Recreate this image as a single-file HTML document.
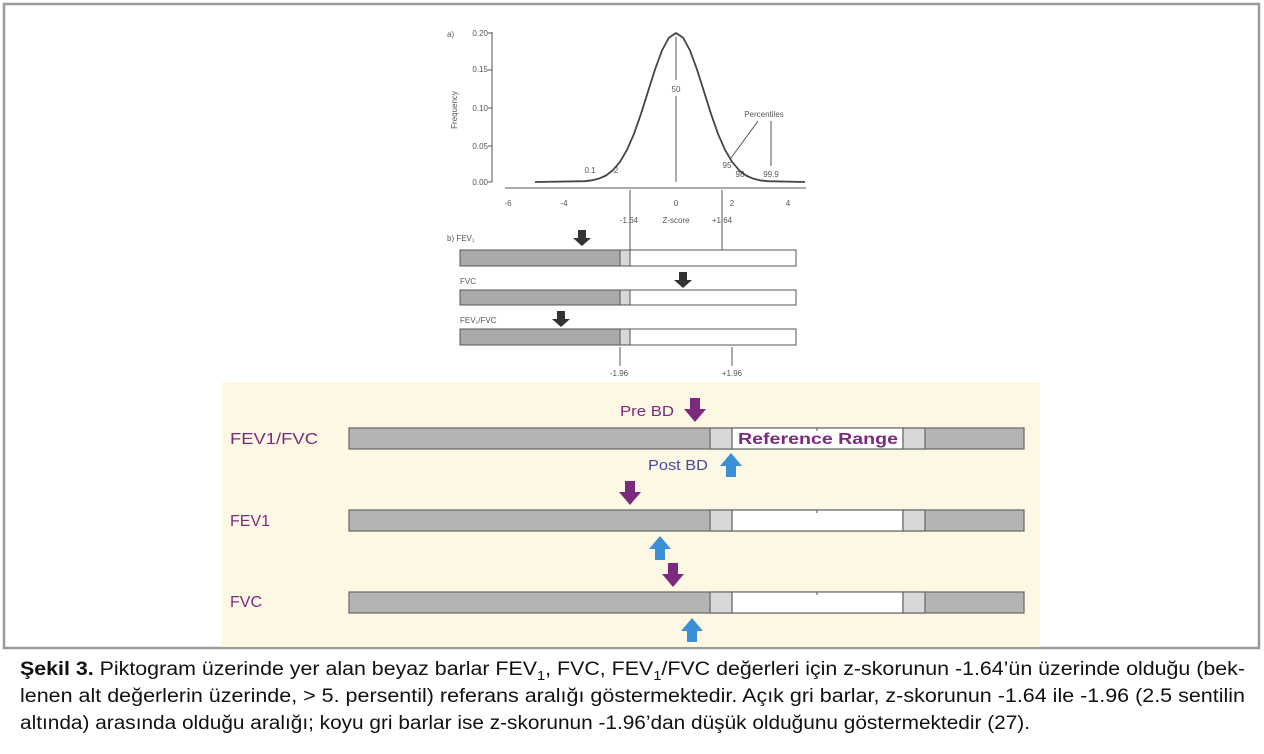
<!DOCTYPE html>
<html><head><meta charset="utf-8"><style>
html,body{margin:0;padding:0;background:#fff;}
svg{display:block;}
</style></head><body>
<svg width="1264" height="754" viewBox="0 0 1264 754" xmlns="http://www.w3.org/2000/svg" font-family="Liberation Sans, sans-serif">
<rect x="4" y="4" width="1255" height="644" fill="#fff" stroke="#9a9a9a" stroke-width="2.5"/>
<rect x="222" y="382" width="818" height="265" fill="#fdf8e4"/>

<!-- top chart -->
<g fill="#555" font-size="8">
<text x="447" y="37">a)</text>
<text x="488" y="36" text-anchor="end">0.20</text>
<text x="488" y="72" text-anchor="end">0.15</text>
<text x="488" y="111" text-anchor="end">0.10</text>
<text x="488" y="149" text-anchor="end">0.05</text>
<text x="488" y="185" text-anchor="end">0.00</text>
<text transform="translate(457,110) rotate(-90)" text-anchor="middle">Frequency</text>
<text x="508" y="206" text-anchor="middle">-6</text>
<text x="564" y="206" text-anchor="middle">-4</text>
<text x="676" y="206" text-anchor="middle">0</text>
<text x="732" y="206" text-anchor="middle">2</text>
<text x="788" y="206" text-anchor="middle">4</text>
<text x="629" y="223" text-anchor="middle">-1.64</text>
<text x="676" y="223" text-anchor="middle">Z-score</text>
<text x="722" y="223" text-anchor="middle">+1.64</text>
<text x="676" y="92" text-anchor="middle">50</text>
<text x="764" y="117" text-anchor="middle">Percentiles</text>
<text x="590" y="173" text-anchor="middle">0.1</text>
<text x="616" y="173" text-anchor="middle">2</text>
<text x="727" y="168" text-anchor="middle">95</text>
<text x="740" y="177" text-anchor="middle">98</text>
<text x="771" y="177" text-anchor="middle">99.9</text>
<text x="447" y="241">b) FEV₁</text>
<text x="460" y="284">FVC</text>
<text x="460" y="323">FEV₁/FVC</text>
<text x="619" y="376" text-anchor="middle">-1.96</text>
<text x="732" y="376" text-anchor="middle">+1.96</text>
</g>
<g stroke="#555" fill="none" stroke-width="1">
<line x1="492" y1="32" x2="492" y2="182"/>
<line x1="488" y1="33" x2="492" y2="33"/><line x1="488" y1="70" x2="492" y2="70"/><line x1="488" y1="108" x2="492" y2="108"/><line x1="488" y1="146" x2="492" y2="146"/><line x1="488" y1="182" x2="492" y2="182"/>
<line x1="505" y1="188" x2="806" y2="188"/>
<line x1="676" y1="37" x2="676" y2="80"/><line x1="676" y1="96" x2="676" y2="182"/>
<line x1="758" y1="121" x2="731" y2="158"/>
<line x1="771" y1="121" x2="771" y2="166"/>
<line x1="630" y1="190" x2="630" y2="250"/>
<line x1="722" y1="190" x2="722" y2="250"/>
<line x1="620" y1="347" x2="620" y2="366"/>
<line x1="732" y1="347" x2="732" y2="366"/>
</g>
<polyline points="535,182 585,181.2 592,180.3 599,178.6 606,175.5 613,170.1 620,161.8 627,149.8 634,133.8 641,113.8 648,91.6 655,69.5 662,50.5 669,37.6 676,33 683,37.6 690,50.5 697,69.5 704,91.6 711,113.8 718,133.8 725,149.8 732,161.8 739,170.1 746,175.5 753,178.6 760,180.3 767,181.2 805,182" fill="none" stroke="#444" stroke-width="1.8" stroke-linejoin="round"/>
<!-- small bars -->
<g stroke="#555" stroke-width="1">
<rect x="460" y="250" width="336" height="16" fill="#fff"/><rect x="460" y="250" width="160" height="16" fill="#aaa"/><rect x="620" y="250" width="10" height="16" fill="#d8d8d8"/>
<rect x="460" y="290" width="336" height="15" fill="#fff"/><rect x="460" y="290" width="160" height="15" fill="#aaa"/><rect x="620" y="290" width="10" height="15" fill="#d8d8d8"/>
<rect x="460" y="329" width="336" height="16" fill="#fff"/><rect x="460" y="329" width="160" height="16" fill="#aaa"/><rect x="620" y="329" width="10" height="16" fill="#d8d8d8"/>
</g>
<g fill="#333">
<path d="M578,230h8v8h5l-9,8l-9,-8h5z"/>
<path d="M679,272h8v8h5l-9,8l-9,-8h5z"/>
<path d="M557,311h8v8h5l-9,8l-9,-8h5z"/>
</g>

<!-- bottom bars -->
<g stroke="#666" stroke-width="1.2">
<g><rect x="349" y="428" width="675" height="21" fill="#b4b4b4"/><rect x="710" y="428" width="22" height="21" fill="#d8d8d8"/><rect x="732" y="428" width="171" height="21" fill="#fff"/><rect x="903" y="428" width="22" height="21" fill="#d8d8d8"/></g>
<g><rect x="349" y="510" width="675" height="21" fill="#b4b4b4"/><rect x="710" y="510" width="22" height="21" fill="#d8d8d8"/><rect x="732" y="510" width="171" height="21" fill="#fff"/><rect x="903" y="510" width="22" height="21" fill="#d8d8d8"/></g>
<g><rect x="349" y="592" width="675" height="21" fill="#b4b4b4"/><rect x="710" y="592" width="22" height="21" fill="#d8d8d8"/><rect x="732" y="592" width="171" height="21" fill="#fff"/><rect x="903" y="592" width="22" height="21" fill="#d8d8d8"/></g>
<line x1="817" y1="428" x2="817" y2="431"/><line x1="817" y1="510" x2="817" y2="513"/><line x1="817" y1="592" x2="817" y2="595"/>
</g>
<g fill="#7b2a7e" font-size="16">
<text x="230" y="444" textLength="88" lengthAdjust="spacingAndGlyphs">FEV1/FVC</text>
<text x="230" y="526">FEV1</text>
<text x="230" y="607">FVC</text>
<text x="620" y="416" font-size="15" textLength="54" lengthAdjust="spacingAndGlyphs">Pre BD</text>
<text x="738" y="444" font-weight="bold" textLength="160" lengthAdjust="spacingAndGlyphs">Reference Range</text>
</g>
<text x="648" y="470" fill="#4a4a9a" font-size="15" textLength="60" lengthAdjust="spacingAndGlyphs">Post BD</text>
<g fill="#7b2a7e">
<path d="M690,398h10v11h6l-11,13l-11,-13h6z"/>
<path d="M625,481h10v11h6l-11,13l-11,-13h6z"/>
<path d="M668,563h10v11h6l-11,13l-11,-13h6z"/>
</g>
<g fill="#3a8fd6">
<path d="M726,477h10v-11h6l-11,-13l-11,13h6z"/>
<path d="M655,560h10v-11h6l-11,-13l-11,13h6z"/>
<path d="M687,642h10v-11h6l-11,-13l-11,13h6z"/>
</g>

<!-- caption -->
<g fill="#111" font-size="19" font-family="Liberation Sans Narrow, Liberation Sans, sans-serif">
<text x="20" y="675" textLength="1225" lengthAdjust="spacingAndGlyphs"><tspan font-weight="bold">Şekil 3.</tspan> Piktogram üzerinde yer alan beyaz barlar FEV<tspan font-size="13" dy="5">1</tspan><tspan dy="-5">, FVC, FEV</tspan><tspan font-size="13" dy="5">1</tspan><tspan dy="-5">/FVC değerleri için z-skorunun -1.64’ün üzerinde olduğu (bek-</tspan></text>
<text x="20" y="702" textLength="1225" lengthAdjust="spacingAndGlyphs">lenen alt değerlerin üzerinde, &gt; 5. persentil) referans aralığı göstermektedir. Açık gri barlar, z-skorunun -1.64 ile -1.96 (2.5 sentilin</text>
<text x="20" y="729" textLength="1010" lengthAdjust="spacingAndGlyphs">altında) arasında olduğu aralığı; koyu gri barlar ise z-skorunun -1.96’dan düşük olduğunu göstermektedir (27).</text>
</g>
</svg>
</body></html>
